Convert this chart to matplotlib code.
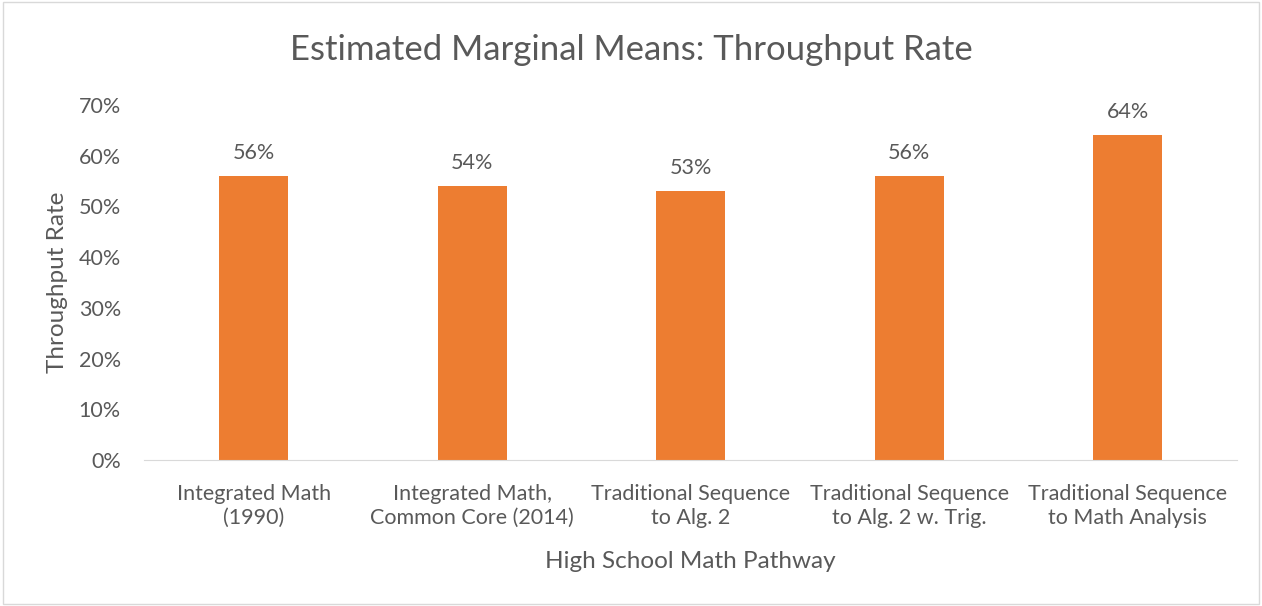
import matplotlib.pyplot as plt
from matplotlib.patches import Rectangle

# データ
pathways = ["Integrated Math\n(1990)", "Integrated Math,\nCommon Core (2014)",
            "Traditional Sequence\nto Alg. 2", "Traditional Sequence\nto Alg. 2 w. Trig.",
            "Traditional Sequence\nto Math Analysis"]
rates = [56, 54, 53, 56, 64]
yticks = [0, 10, 20, 30, 40, 50, 60, 70]

plt.rcParams['font.family'] = ['Lato', 'DejaVu Sans']
gray = '#595959'

fig = plt.figure(figsize=(12.62, 6.06), dpi=100)
fig.patches.append(Rectangle((0.002, 0.003), 0.996, 0.994, transform=fig.transFigure,
                             fill=False, edgecolor='#d9d9d9', lw=1))
ax = fig.add_axes([0.1145, 0.2409, 0.8655, 0.586])

x = range(len(pathways))
bars = ax.bar(x, rates, width=0.316, color='#ED7D31')
for b, v in zip(bars, rates):
    ax.text(b.get_x() + b.get_width() / 2, v + 2.6, f"{v}%", ha='center', va='bottom',
            fontsize=15.5, color=gray)

ax.set_xlim(-0.5, len(pathways) - 0.5)
ax.set_ylim(0, 70)
ax.set_yticks(yticks)
ax.set_yticklabels([f"{t}%" for t in yticks])
ax.set_xticks(list(x))
ax.set_xticklabels(pathways, linespacing=1.25)
ax.tick_params(axis='both', length=0, labelsize=15.5, labelcolor=gray)
ax.tick_params(axis='y', pad=17)
ax.tick_params(axis='x', pad=17)

for s in ['top', 'right', 'left']:
    ax.spines[s].set_visible(False)
ax.spines['bottom'].set_color('#d9d9d9')

ax.set_xlabel("High School Math Pathway", fontsize=17.5, color=gray, labelpad=17)
ax.set_ylabel("Throughput Rate", fontsize=17.5, color=gray, labelpad=8)
fig.text(0.5, 0.918, "Estimated Marginal Means: Throughput Rate", ha='center', va='center',
         fontsize=25, color=gray)

plt.savefig("out.png", dpi=100)
plt.close()
